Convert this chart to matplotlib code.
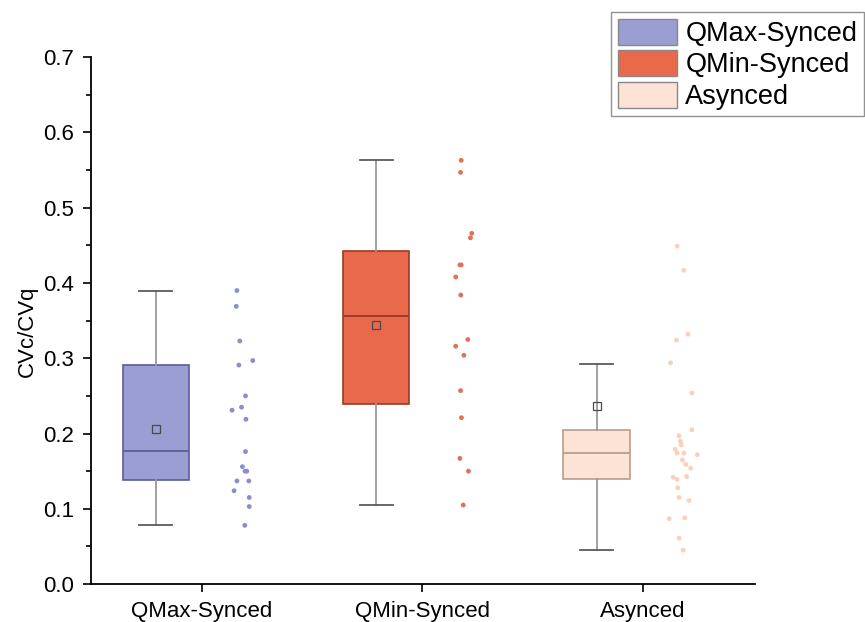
import matplotlib
matplotlib.use("Agg")
import matplotlib.pyplot as plt
from matplotlib.patches import Patch

plt.rcParams['font.family'] = ['Liberation Sans', 'DejaVu Sans']

groups = ['QMax-Synced', 'QMin-Synced', 'Asynced']

# box statistics
q1 = [0.138, 0.239, 0.139]
med = [0.177, 0.356, 0.174]
q3 = [0.291, 0.443, 0.205]
whislo = [0.078, 0.105, 0.045]
whishi = [0.390, 0.564, 0.293]
means = [0.206, 0.344, 0.236]

# raw points
qmax_pts = [0.390, 0.369, 0.323, 0.297, 0.291, 0.250, 0.235, 0.231, 0.219, 0.176,
            0.156, 0.150, 0.150, 0.137, 0.137, 0.124, 0.115, 0.103, 0.078]
qmin_pts = [0.563, 0.547, 0.466, 0.460, 0.424, 0.424, 0.408, 0.384, 0.325, 0.316,
            0.304, 0.257, 0.221, 0.167, 0.150, 0.105]
async_pts = [0.449, 0.417, 0.332, 0.324, 0.294, 0.254, 0.205, 0.197, 0.190, 0.185,
             0.179, 0.174, 0.174, 0.172, 0.165, 0.159, 0.154, 0.142, 0.139, 0.143,
             0.128, 0.111, 0.115, 0.087, 0.088, 0.061, 0.045]

# horizontal jitter of the dots (layout)
qmax_jit = [-0.022, -0.025, -0.009, 0.050, -0.013, 0.017, -0.001, -0.044, 0.019, 0.017,
            0.003, 0.015, 0.023, -0.022, 0.032, -0.035, 0.034, 0.034, 0.014]
qmin_jit = [-0.004, -0.007, 0.044, 0.038, -0.010, -0.004, -0.029, -0.006, 0.026, -0.029,
            0.008, -0.007, -0.003, -0.010, 0.029, 0.005]
async_jit = [-0.024, 0.006, 0.025, -0.027, -0.054, 0.043, 0.043, -0.015, -0.009, -0.006,
             -0.033, 0.006, -0.024, 0.067, 0.000, 0.015, 0.037, -0.042, -0.024, 0.019,
             -0.021, 0.030, -0.015, -0.060, 0.010, -0.015, 0.003]

points = [qmax_pts, qmin_pts, async_pts]
jitters = [qmax_jit, qmin_jit, async_jit]

fills = ['#9a9ed2', '#e8694b', '#fde3d6']
edges = ['#5a5e96', '#9a3a28', '#b99c8f']
dots = ['#8a8ecb', '#e07258', '#f9d0ba']

fig = plt.figure(figsize=(8.65, 6.22), dpi=100)
ax = fig.add_axes([0.105, 0.061, 0.768, 0.847])

pos = [1, 2, 3]
stats = []
for i in range(3):
    stats.append(dict(med=med[i], q1=q1[i], q3=q3[i], whislo=whislo[i],
                      whishi=whishi[i], mean=means[i], fliers=[], label=groups[i]))

for i in range(3):
    b = ax.bxp([stats[i]], positions=[pos[i] - 0.21], widths=0.3, capwidths=0.15,
               patch_artist=True, showmeans=True, showfliers=False,
               boxprops=dict(facecolor=fills[i], edgecolor=edges[i], linewidth=1.2),
               medianprops=dict(color=edges[i], linewidth=1.3),
               whiskerprops=dict(color='#9a9a9a', linewidth=1.3),
               capprops=dict(color='#5a5a5a', linewidth=1.3),
               meanprops=dict(marker='s', markerfacecolor='none',
                              markeredgecolor='#4a4a4a', markersize=5.5,
                              markeredgewidth=0.9))
    xs = [pos[i] + 0.18 + j for j in jitters[i]]
    ax.scatter(xs, points[i], s=12, color=dots[i], edgecolors='none', zorder=3)

ax.set_xlim(0.495, 3.51)
ax.set_ylim(0, 0.7)
ax.set_xticks(pos)
ax.set_xticklabels(groups)
ax.set_yticks([0, 0.1, 0.2, 0.3, 0.4, 0.5, 0.6, 0.7])
ax.set_yticks([0.05, 0.15, 0.25, 0.35, 0.45, 0.55, 0.65], minor=True)
ax.tick_params(axis='both', direction='out', labelsize=16, length=6, width=1.2, pad=6)
ax.tick_params(axis='y', which='minor', length=3.5, width=1.2)
ax.spines['top'].set_visible(False)
ax.spines['right'].set_visible(False)
ax.spines['left'].set_linewidth(1.3)
ax.spines['bottom'].set_linewidth(1.3)
ax.set_ylabel('CVc/CVq', fontsize=16)
ax.yaxis.set_label_coords(-0.079, 0.48)

handles = [Patch(facecolor=fills[i], edgecolor='#888888', linewidth=1) for i in range(3)]
leg = fig.legend(handles, groups, loc='upper right', bbox_to_anchor=(0.999, 0.981),
                 fontsize=19.5, frameon=True, fancybox=False, edgecolor='#777777',
                 handlelength=2.2, handleheight=1.1, labelspacing=0.12,
                 handletextpad=0.3, borderpad=0.25, borderaxespad=0)
leg.get_frame().set_linewidth(1)

fig.savefig('out.png', dpi=100)
